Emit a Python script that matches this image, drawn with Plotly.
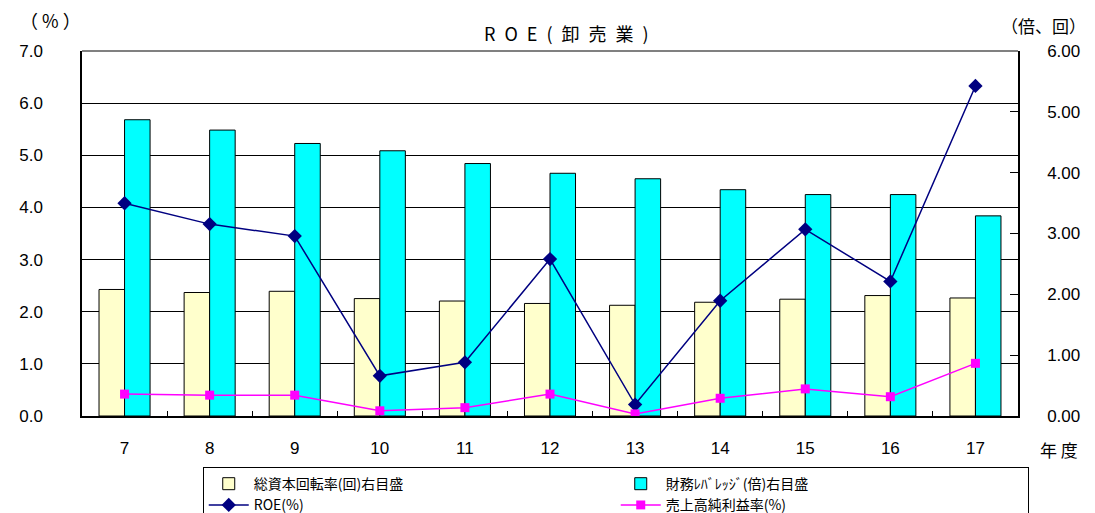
import plotly.graph_objects as go

years = ["7", "8", "9", "10", "11", "12", "13", "14", "15", "16", "17"]
turnover = [2.08, 2.03, 2.05, 1.93, 1.89, 1.85, 1.82, 1.87, 1.92, 1.98, 1.94]
leverage = [4.87, 4.70, 4.48, 4.36, 4.15, 3.99, 3.90, 3.72, 3.64, 3.64, 3.29]
roe = [4.08, 3.68, 3.45, 0.77, 1.03, 3.01, 0.22, 2.21, 3.58, 2.58, 6.33]
margin = [0.42, 0.40, 0.40, 0.10, 0.16, 0.42, 0.04, 0.34, 0.52, 0.37, 1.01]

name_turn = "総資本回転率(回)右目盛"
name_lev = "財務ﾚﾊﾞﾚｯｼﾞ(倍)右目盛"
name_roe = "ROE(%)"
name_margin = "売上高純利益率(%)"

LAT = "Liberation Sans, Arial, sans-serif"
JP = "Noto Sans CJK JP, Liberation Sans, sans-serif"

fig = go.Figure()
fig.add_trace(go.Bar(x=years, y=turnover, name=name_turn, yaxis="y",
                     marker=dict(color="#FFFFCC", line=dict(color="#000000", width=1))))
fig.add_trace(go.Bar(x=years, y=leverage, name=name_lev, yaxis="y",
                     marker=dict(color="#00FFFF", line=dict(color="#000000", width=1))))
fig.add_trace(go.Scatter(x=years, y=roe, name=name_roe, yaxis="y2", mode="lines+markers",
                         line=dict(color="#000080", width=1.5),
                         marker=dict(symbol="diamond", size=11, color="#000080")))
fig.add_trace(go.Scatter(x=years, y=margin, name=name_margin, yaxis="y2", mode="lines+markers",
                         line=dict(color="#FF00FF", width=1.5),
                         marker=dict(symbol="square", size=9, color="#FF00FF")))

fig.update_layout(
    width=1087, height=505,
    margin=dict(l=74, r=77, t=43, b=97, autoexpand=False),
    paper_bgcolor="white", plot_bgcolor="white",
    barmode="group", bargap=0.4, bargroupgap=0,
    font=dict(family=LAT, size=15, color="black"),
    showlegend=True,
    legend=dict(orientation="h", x=0.129, xanchor="left", y=-0.14, yanchor="top",
                entrywidth=357, entrywidthmode="pixels",
                bgcolor="white", bordercolor="black", borderwidth=1,
                font=dict(family=JP, size=14), traceorder="normal",
                itemwidth=40),
    xaxis=dict(type="category", range=[-0.5, len(years) - 0.5],
               showline=True, linecolor="black", linewidth=1.5,
               ticks="inside", ticklen=5, tickcolor="black", tickson="boundaries",
               showgrid=False, tickfont=dict(family=LAT, size=17),
               ticklabelstandoff=16, automargin=False),
    yaxis=dict(side="right", range=[0, 6], dtick=1, tickformat=".2f",
               showgrid=False, zeroline=False, showline=True, linecolor="black", linewidth=1.5,
               ticks="inside", ticklen=8, tickcolor="black",
               tickfont=dict(family=LAT, size=17), ticklabelstandoff=24, automargin=False),
    yaxis2=dict(side="left", overlaying="y", range=[0, 7], dtick=1, tickformat=".1f",
                showgrid=True, gridcolor="black", gridwidth=1, zeroline=False,
                showline=True, linecolor="black", linewidth=1.5,
                ticks="inside", ticklen=6, tickcolor="black",
                tickfont=dict(family=LAT, size=17), ticklabelstandoff=34, automargin=False),
)

fig.add_shape(type="line", xref="paper", yref="paper", x0=0, x1=1, y0=1, y1=1,
              line=dict(color="#808080", width=2))

fig.add_annotation(text="R\u2002O\u2002E\u2002(\u2002卸\u2002売\u2002業\u2002)", xref="paper", yref="paper",
                   x=0.518, y=1.049,
                   showarrow=False, font=dict(family=JP, size=18), xanchor="center", yanchor="middle")
fig.add_annotation(text="（ % ）", xref="paper", yref="paper", x=-0.034, y=1.085,
                   showarrow=False, font=dict(family=JP, size=18), xanchor="center", yanchor="middle")
fig.add_annotation(text="（倍、回）", xref="paper", yref="paper", x=1.027, y=1.071,
                   showarrow=False, font=dict(family=JP, size=17), xanchor="center", yanchor="middle")
fig.add_annotation(text="年 度", xref="paper", yref="paper", x=1.044, y=-0.093,
                   showarrow=False, font=dict(family=JP, size=17), xanchor="center", yanchor="middle")

fig.write_html("out.html")
